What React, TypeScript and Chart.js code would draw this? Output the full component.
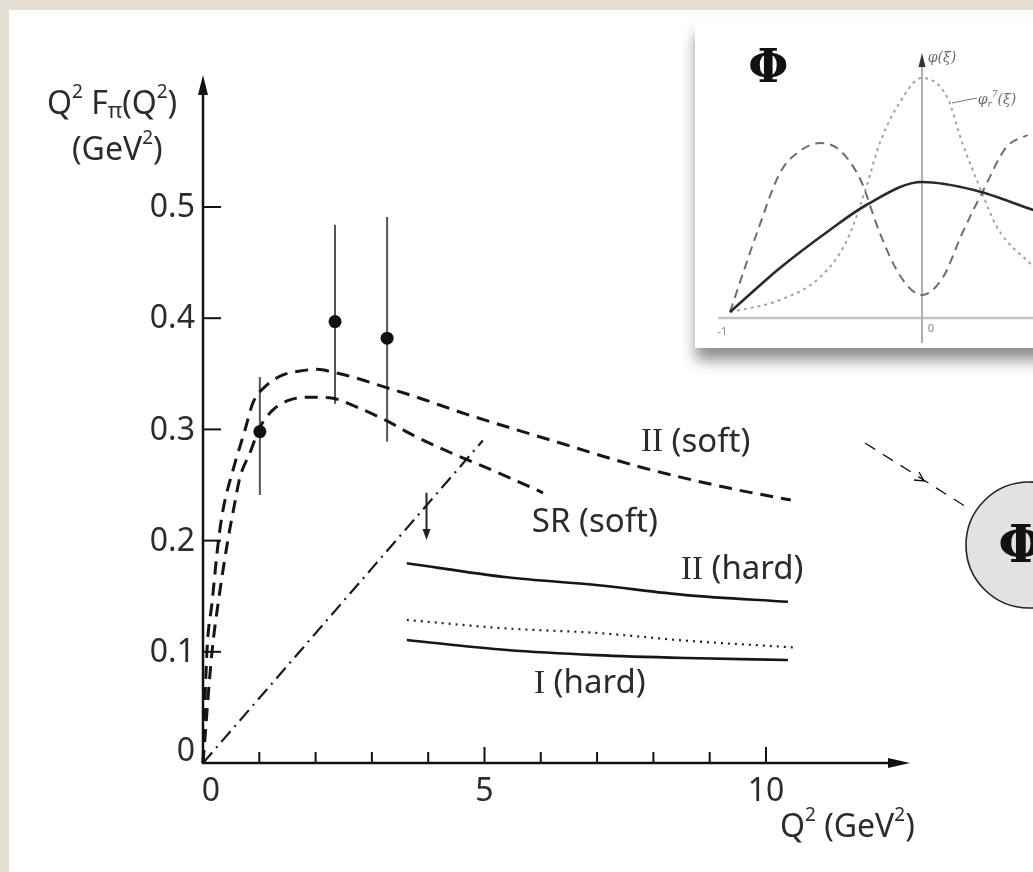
import React, { useEffect, useRef } from "react";
import { Chart, registerables } from "chart.js";
Chart.register(...registerables);

const SANS = "'Noto Sans', 'DejaVu Sans', sans-serif";
const SERIF = "'Liberation Serif', 'DejaVu Serif', serif";
const INK = "#2c2c2c";

// ---------- main chart data: Q^2 (GeV^2) vs Q^2 F_pi(Q^2) (GeV^2) ----------
const softIIX = [0, 0.07, 0.16, 0.27, 0.355, 0.533, 0.746, 0.888, 1.137, 1.421, 1.723, 2.025, 2.345, 2.664, 3.233, 3.8, 4.6, 6.2, 7.78, 9.36, 10.44];
const softIIY = [0, 0.1, 0.144, 0.198, 0.2275, 0.2635, 0.2995, 0.324, 0.34, 0.349, 0.3525, 0.354, 0.351, 0.347, 0.338, 0.329, 0.315, 0.29, 0.266, 0.247, 0.2365];
const softSRX = [0, 0.16, 0.27, 0.44, 0.55, 0.657, 0.835, 1.012, 1.243, 1.545, 1.954, 2.309, 2.735, 3.233, 3.8, 4.4, 5.2, 6.04];
const softSRY = [0, 0.1, 0.144, 0.2, 0.23, 0.257, 0.279, 0.302, 0.3175, 0.3265, 0.329, 0.328, 0.32, 0.3085, 0.293, 0.279, 0.262, 0.243];
const dashDotX = [0, 4.97];
const dashDotY = [0, 0.29];
const hardIIX = [3.62, 5.4, 6.98, 8.58, 10.39];
const hardIIY = [0.1796, 0.167, 0.16, 0.151, 0.145];
const dottedX = [3.62, 5.4, 6.98, 8.58, 10.48];
const dottedY = [0.1286, 0.121, 0.117, 0.11, 0.104];
const hardIX = [3.62, 5.4, 6.98, 8.58, 10.39];
const hardIY = [0.1106, 0.1016, 0.097, 0.0944, 0.0926];

const pointsX = [1.01, 2.345, 3.27];
const pointsY = [0.298, 0.397, 0.382];
const errLow = [0.241, 0.323, 0.289];
const errHigh = [0.347, 0.484, 0.491];

const limitX = [3.97];
const limitTop = [0.243];
const limitBottom = [0.2005];

const yTickValues = [0, 0.1, 0.2, 0.3, 0.4, 0.5];
const yTickLabels = ["0", "0.1", "0.2", "0.3", "0.4", "0.5"];
const xTickValues = [0, 5, 10];
const xTickLabels = ["0", "5", "10"];
const xMinorTicks = [1, 2, 3, 4, 5, 6, 7, 8, 9, 10];

// ---------- inset data: xi vs phi(xi) ----------
const insetSolidX = [-1, -0.86, -0.74, -0.48, -0.29, 0, 0.27, 0.58];
const insetSolidY = [0.06, 0.3, 0.5, 0.88, 1.13, 1.36, 1.28, 1.08];
const insetDashedX = [-1, -0.86, -0.74, -0.65, -0.53, -0.43, -0.32, -0.22, -0.11, 0, 0.11, 0.21, 0.32, 0.44, 0.55];
const insetDashedY = [0.06, 0.85, 1.45, 1.65, 1.75, 1.68, 1.38, 0.85, 0.41, 0.23, 0.41, 0.85, 1.28, 1.71, 1.83];
const insetDottedX = [-1, -0.74, -0.53, -0.39, -0.29, -0.22, -0.13, 0, 0.13, 0.21, 0.3, 0.39, 0.58];
const insetDottedY = [0.06, 0.18, 0.41, 0.78, 1.31, 1.75, 2.11, 2.4, 2.21, 1.75, 1.31, 0.91, 0.51];

const zip = (xs: number[], ys: number[]) => xs.map((x, i) => ({ x, y: ys[i] }));

type Run = [string, number, number, string?];
function drawRuns(ctx: CanvasRenderingContext2D, x: number, y: number, runs: Run[], align: "left" | "center" | "right" = "left", color = INK, weight = "") {
  ctx.save();
  ctx.fillStyle = color;
  ctx.textBaseline = "middle";
  ctx.textAlign = "left";
  let total = 0;
  const ws = runs.map((r) => {
    ctx.font = `${weight} ${r[1]}px ${r[3] || SANS}`;
    const w = ctx.measureText(r[0]).width;
    total += w;
    return w;
  });
  let cx = align === "left" ? x : align === "center" ? x - total / 2 : x - total;
  runs.forEach((r, i) => {
    ctx.font = `${weight} ${r[1]}px ${r[3] || SANS}`;
    ctx.fillText(r[0], cx, y + r[2]);
    cx += ws[i];
  });
  ctx.restore();
}

const mainPlugin = {
  id: "mainDecor",
  beforeDraw(chart: any) {
    const ctx = chart.ctx as CanvasRenderingContext2D;
    ctx.save();
    ctx.fillStyle = "#ffffff";
    ctx.fillRect(0, 0, chart.width, chart.height);
    ctx.fillStyle = "#e4dfd2";
    ctx.fillRect(0, 0, 9, chart.height);
    ctx.fillRect(0, 0, chart.width, 10);
    ctx.restore();
  },
  beforeDatasetsDraw(chart: any) {
    const ctx = chart.ctx as CanvasRenderingContext2D;
    const xs = chart.scales.x, ys = chart.scales.y;
    ctx.save();
    ctx.strokeStyle = "#555";
    ctx.lineWidth = 2;
    pointsX.forEach((x, i) => {
      const px = xs.getPixelForValue(x);
      ctx.beginPath();
      ctx.moveTo(px, ys.getPixelForValue(errLow[i]));
      ctx.lineTo(px, ys.getPixelForValue(errHigh[i]));
      ctx.stroke();
    });
    ctx.restore();
  },
  afterDatasetsDraw(chart: any) {
    const ctx = chart.ctx as CanvasRenderingContext2D;
    const xs = chart.scales.x, ys = chart.scales.y;
    const x0 = xs.getPixelForValue(0);
    const y0 = ys.getPixelForValue(0);
    const top = chart.chartArea.top;
    const right = chart.chartArea.right;
    ctx.save();
    ctx.strokeStyle = "#111";
    ctx.fillStyle = "#111";
    ctx.lineWidth = 2.5;
    ctx.lineCap = "butt";
    // y axis
    ctx.beginPath();
    ctx.moveTo(x0, y0 + 1);
    ctx.lineTo(x0, top + 16);
    ctx.stroke();
    ctx.beginPath();
    ctx.moveTo(x0, top);
    ctx.lineTo(x0 - 5, top + 20);
    ctx.lineTo(x0 + 5, top + 20);
    ctx.closePath();
    ctx.fill();
    // x axis
    ctx.beginPath();
    ctx.moveTo(x0 - 1, y0);
    ctx.lineTo(right - 16, y0);
    ctx.stroke();
    ctx.beginPath();
    ctx.moveTo(right, y0);
    ctx.lineTo(right - 22, y0 - 5);
    ctx.lineTo(right - 22, y0 + 5);
    ctx.closePath();
    ctx.fill();
    // ticks
    ctx.lineWidth = 2;
    yTickValues.forEach((v) => {
      if (v === 0) return;
      const py = ys.getPixelForValue(v);
      ctx.beginPath();
      ctx.moveTo(x0, py);
      ctx.lineTo(x0 + 18, py);
      ctx.stroke();
    });
    xMinorTicks.forEach((v) => {
      const px = xs.getPixelForValue(v);
      const len = v % 5 === 0 ? 16 : 11;
      ctx.beginPath();
      ctx.moveTo(px, y0);
      ctx.lineTo(px, y0 - len);
      ctx.stroke();
    });
    ctx.restore();

    // tick labels
    ctx.save();
    ctx.fillStyle = INK;
    ctx.font = `32px ${SANS}`;
    ctx.textBaseline = "middle";
    yTickValues.forEach((v, i) => {
      const py = ys.getPixelForValue(v);
      if (v === 0) {
        ctx.textAlign = "center";
        ctx.fillText(yTickLabels[i], x0 - 17, py - 11);
      } else {
        ctx.textAlign = "right";
        ctx.fillText(yTickLabels[i], x0 - 8, py + 1);
      }
    });
    ctx.textAlign = "center";
    xTickValues.forEach((v, i) => {
      const px = xs.getPixelForValue(v);
      ctx.fillText(xTickLabels[i], px + (v === 0 ? 8 : 0), y0 + 29);
    });
    ctx.restore();

    // axis titles
    drawRuns(ctx, 47, 105, [["Q", 32, 0], ["2", 19, -12], [" F", 32, 0], ["π", 22, 7], ["(Q", 32, 0], ["2", 19, -12], [")", 32, 0]]);
    drawRuns(ctx, 72, 151, [["(GeV", 32, 0], ["2", 19, -12], [")", 32, 0]]);
    drawRuns(ctx, 780, 828, [["Q", 32, 0], ["2", 19, -12], [" (GeV", 32, 0], ["2", 19, -12], [")", 32, 0]]);

    // curve labels (anchored in data coordinates)
    const lab = (x: number, y: number, runs: Run[]) => drawRuns(ctx, xs.getPixelForValue(x), ys.getPixelForValue(y), runs);
    lab(7.78, 0.288, [["II", 33, 0, SERIF], [" (soft)", 33, 0]]);
    lab(5.84, 0.216, [["SR (soft)", 33, 0]]);
    lab(8.49, 0.1736, [["II", 33, 0, SERIF], [" (hard)", 33, 0]]);
    lab(5.88, 0.071, [["I", 33, 0, SERIF], [" (hard)", 33, 0]]);

    // upper-limit arrow
    ctx.save();
    ctx.strokeStyle = "#222";
    ctx.fillStyle = "#222";
    ctx.lineWidth = 2;
    limitX.forEach((x, i) => {
      const px = xs.getPixelForValue(x);
      const pt = ys.getPixelForValue(limitTop[i]);
      const pb = ys.getPixelForValue(limitBottom[i]);
      ctx.beginPath();
      ctx.moveTo(px, pt);
      ctx.lineTo(px, pb - 8);
      ctx.stroke();
      ctx.beginPath();
      ctx.moveTo(px, pb);
      ctx.lineTo(px - 4, pb - 11);
      ctx.lineTo(px + 4, pb - 11);
      ctx.closePath();
      ctx.fill();
    });
    ctx.restore();

    // dashed pointer and circle with Φ (decoration)
    ctx.save();
    ctx.strokeStyle = "#111";
    ctx.lineWidth = 1.3;
    ctx.setLineDash([12, 9]);
    ctx.beginPath();
    ctx.moveTo(865, 443);
    ctx.lineTo(968, 508);
    ctx.stroke();
    ctx.setLineDash([]);
    ctx.beginPath();
    ctx.moveTo(914, 480);
    ctx.lineTo(924, 481);
    ctx.lineTo(919, 472);
    ctx.stroke();
    ctx.beginPath();
    ctx.arc(1029, 545, 63, 0, Math.PI * 2);
    ctx.fillStyle = "#e2e2e2";
    ctx.fill();
    ctx.lineWidth = 1.6;
    ctx.strokeStyle = "#222";
    ctx.stroke();
    ctx.restore();
    drawRuns(ctx, 1021, 548, [["Φ", 52, 0, "'DejaVu Serif', serif"]], "center", "#111", "bold");
  },
};

const insetPlugin = {
  id: "insetDecor",
  beforeDatasetsDraw(chart: any) {
    const ctx = chart.ctx as CanvasRenderingContext2D;
    const xs = chart.scales.x, ys = chart.scales.y;
    const bx = ys.getPixelForValue(0);
    const ax = xs.getPixelForValue(0);
    ctx.save();
    ctx.strokeStyle = "#c4c4c4";
    ctx.lineWidth = 2.5;
    ctx.beginPath();
    ctx.moveTo(chart.chartArea.left, bx);
    ctx.lineTo(chart.width, bx);
    ctx.stroke();
    ctx.strokeStyle = "#b0b0b0";
    ctx.lineWidth = 2;
    ctx.beginPath();
    ctx.moveTo(ax, ys.getPixelForValue(-0.25));
    ctx.lineTo(ax, chart.chartArea.top + 10);
    ctx.stroke();
    ctx.fillStyle = "#333";
    ctx.beginPath();
    ctx.moveTo(ax, chart.chartArea.top);
    ctx.lineTo(ax - 3.5, chart.chartArea.top + 14);
    ctx.lineTo(ax + 3.5, chart.chartArea.top + 14);
    ctx.closePath();
    ctx.fill();
    ctx.restore();
  },
  afterDatasetsDraw(chart: any) {
    const ctx = chart.ctx as CanvasRenderingContext2D;
    const xs = chart.scales.x, ys = chart.scales.y;
    const P = (x: number, y: number) => [xs.getPixelForValue(x), ys.getPixelForValue(y)];
    const G = "#6a6a6a";
    let [x, y] = P(0.03, 2.6);
    drawRuns(ctx, x, y, [["φ(ξ)", 14, 0, "'DejaVu Serif', serif"]], "left", G, "italic");
    [x, y] = P(-1.04, -0.14);
    drawRuns(ctx, x, y, [["-1", 11, 0]], "center", "#888");
    [x, y] = P(0.03, -0.11);
    drawRuns(ctx, x, y, [["0", 11, 0]], "left", "#888");
    ctx.save();
    ctx.strokeStyle = "#777";
    ctx.lineWidth = 1;
    const a = P(0.156, 2.15), b = P(0.286, 2.2);
    ctx.beginPath();
    ctx.moveTo(a[0], a[1]);
    ctx.lineTo(b[0], b[1]);
    ctx.stroke();
    ctx.restore();
    [x, y] = P(0.29, 2.18);
    drawRuns(ctx, x, y, [["φ", 14, 0, "'DejaVu Serif', serif"], ["r", 9, 5, "'DejaVu Serif', serif"], ["7", 9, -5, "'DejaVu Serif', serif"], ["(ξ)", 14, 0, "'DejaVu Serif', serif"]], "left", G, "italic");
    [x, y] = P(-0.8, 2.48);
    drawRuns(ctx, x, y, [["Φ", 46, 0, "'DejaVu Serif', serif"]], "center", "#111", "bold");
  },
};

export default function App() {
  const mainRef = useRef<HTMLCanvasElement>(null);
  const insetRef = useRef<HTMLCanvasElement>(null);

  useEffect(() => {
    const lineBase = { pointRadius: 0, fill: false, cubicInterpolationMode: "monotone" as const, order: 1 };
    const main = new Chart(mainRef.current!, {
      type: "line",
      data: {
        datasets: [
          { type: "scatter", label: "data", data: zip(pointsX, pointsY), pointRadius: 6.5, backgroundColor: "#111", borderColor: "#111", borderWidth: 0, order: 0 } as any,
          { ...lineBase, label: "II (soft)", data: zip(softIIX, softIIY), borderColor: "#161616", borderWidth: 3, borderDash: [13, 8] },
          { ...lineBase, label: "SR (soft)", data: zip(softSRX, softSRY), borderColor: "#161616", borderWidth: 3, borderDash: [13, 8] },
          { ...lineBase, label: "dash-dot", data: zip(dashDotX, dashDotY), borderColor: "#1a1a1a", borderWidth: 2.2, borderDash: [14, 6, 2, 6] },
          { ...lineBase, label: "II (hard)", data: zip(hardIIX, hardIIY), borderColor: "#161616", borderWidth: 2.6 },
          { ...lineBase, label: "dotted", data: zip(dottedX, dottedY), borderColor: "#222", borderWidth: 2.2, borderDash: [2, 5] },
          { ...lineBase, label: "I (hard)", data: zip(hardIX, hardIY), borderColor: "#161616", borderWidth: 2.6 },
        ],
      },
      options: {
        responsive: false,
        animation: false,
        events: [],
        layout: { padding: { left: 203, right: 123, top: 75, bottom: 109 } },
        scales: {
          x: { type: "linear", display: false, min: 0, max: 12.558 },
          y: { type: "linear", display: false, min: 0, max: 0.6187 },
        },
        plugins: { legend: { display: false }, tooltip: { enabled: false } },
        datasets: { line: { clip: false } as any },
      },
      plugins: [mainPlugin],
    });

    const inset = new Chart(insetRef.current!, {
      type: "line",
      data: {
        datasets: [
          { ...lineBase, label: "solid", data: zip(insetSolidX, insetSolidY), borderColor: "#2a2a2a", borderWidth: 2.6 },
          { ...lineBase, label: "dashed", data: zip(insetDashedX, insetDashedY), borderColor: "#6e6e6e", borderWidth: 2, borderDash: [9, 6] },
          { ...lineBase, label: "dotted", data: zip(insetDottedX, insetDottedY), borderColor: "#a2a2a2", borderWidth: 2, borderDash: [3, 4] },
        ],
      },
      options: {
        responsive: false,
        animation: false,
        events: [],
        layout: { padding: { left: 23, right: 0, top: 31, bottom: 30 } },
        scales: {
          x: { type: "linear", display: false, min: -1.0625, max: 0.578 },
          y: { type: "linear", display: false, min: 0, max: 2.65 },
        },
        plugins: { legend: { display: false }, tooltip: { enabled: false } },
      },
      plugins: [insetPlugin],
    });

    return () => {
      main.destroy();
      inset.destroy();
    };
  }, []);

  return (
    <div style={{ position: "fixed", left: 0, top: 0, width: 1033, height: 872, overflow: "hidden", background: "#fff" }}>
      <canvas ref={mainRef} width={1033} height={872} style={{ position: "absolute", left: 0, top: 0 }} />
      <div
        style={{
          position: "absolute",
          left: 695,
          top: 22,
          width: 360,
          height: 326,
          background: "#fff",
          boxShadow: "1px 12px 14px rgba(0,0,0,0.45)",
        }}
      >
        <canvas ref={insetRef} width={338} height={326} style={{ position: "absolute", left: 0, top: 0 }} />
      </div>
    </div>
  );
}
